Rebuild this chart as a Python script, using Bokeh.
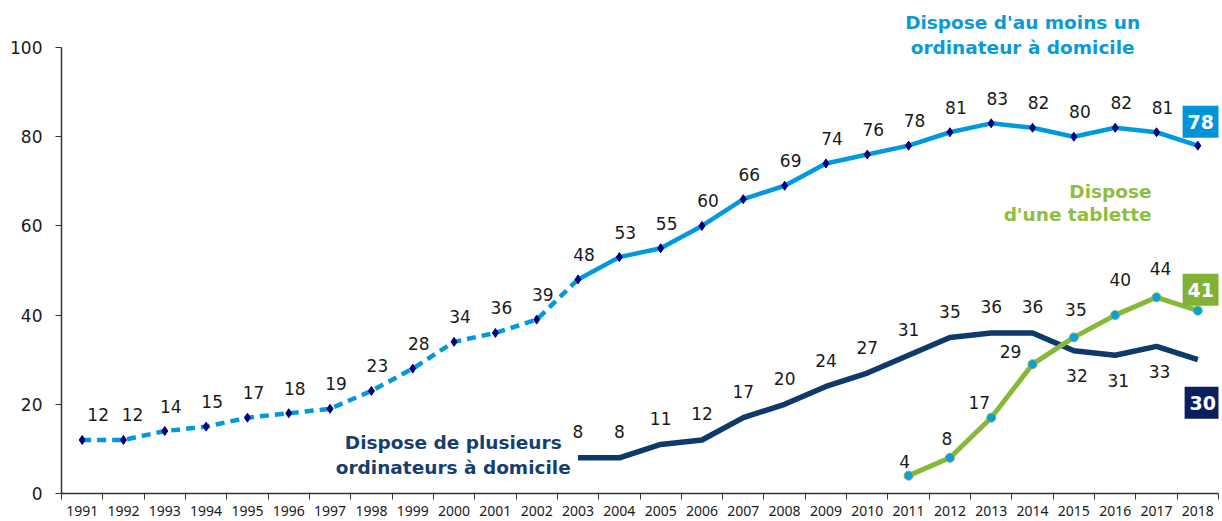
from bokeh.plotting import figure
from bokeh.models import Range1d, FixedTicker, ColumnDataSource
from bokeh.core.properties import value
from bokeh.embed import file_html
from bokeh.resources import INLINE

# ---- data ----
years = list(range(1991, 2019))
computer = [12, 12, 14, 15, 17, 18, 19, 23, 28, 34, 36, 39, 48, 53, 55, 60, 66, 69,
            74, 76, 78, 81, 83, 82, 80, 82, 81, 78]
multi_years = list(range(2003, 2019))
multi = [8, 8, 11, 12, 17, 20, 24, 27, 31, 35, 36, 36, 32, 31, 33, 30]
tablet_years = list(range(2011, 2019))
tablet = [4, 8, 17, 29, 35, 40, 44, 41]

title_computer = ["Dispose d'au moins un", "ordinateur à domicile"]
title_multi = ["Dispose de plusieurs", "ordinateurs à domicile"]
title_tablet = ["Dispose", "d'une tablette"]

# ---- colours ----
C_COMP = "#0099DD"
C_COMP_TITLE = "#0A9AD8"
C_COMP_BOX = "#0095D9"
C_MULTI = "#0D3A6B"
C_MULTI_TITLE = "#163F70"
C_MULTI_BOX = "#0B1F5E"
C_TAB = "#86B83A"
C_TAB_TITLE = "#8CBE3F"
C_TAB_BOX = "#80B236"
C_MARK = "#000080"
C_TABMARK = "#0AA0E0"
C_TXT = "#1A1A1A"

FONT = value("DejaVu Sans")

p = figure(width=1222, height=521, output_backend="svg", toolbar_location=None,
           x_range=Range1d(1990.5, 2018.5), y_range=Range1d(0, 110.54),
           min_border_left=61, min_border_right=4, min_border_top=0, min_border_bottom=28)
p.outline_line_color = None
p.xgrid.visible = False
p.ygrid.visible = False
p.background_fill_color = "white"

# axes
xa = p.xaxis[0]
xa.ticker = FixedTicker(ticks=years, minor_ticks=[y - 0.5 for y in years] + [years[-1] + 0.5])
xa.bounds = (1990.5, 2018.5)
xa.major_tick_out = 0
xa.major_tick_in = 0
xa.minor_tick_out = 6
xa.minor_tick_in = 0
xa.minor_tick_line_color = "#333333"
xa.axis_line_color = "#333333"
xa.axis_line_width = 1.5
xa.major_label_text_font = "Noto Sans"
xa.major_label_text_font_size = "14px"
xa.major_label_text_color = C_TXT
xa.major_label_standoff = 6

ya = p.yaxis[0]
ya.ticker = FixedTicker(ticks=[0, 20, 40, 60, 80, 100])
ya.bounds = (0, 100)
ya.major_tick_out = 6
ya.major_tick_in = 0
ya.minor_tick_out = 0
ya.minor_tick_in = 0
ya.major_tick_line_color = "#333333"
ya.axis_line_color = "#333333"
ya.axis_line_width = 1.5
ya.major_label_text_font = "DejaVu Sans"
ya.major_label_text_font_size = "17px"
ya.major_label_text_color = C_TXT
ya.major_label_standoff = 13

# ---- lines ----
split = years.index(2003)
p.line(years[:split + 1], computer[:split + 1], line_color=C_COMP, line_width=4.5,
       line_dash="9 6")
p.line(years[split:], computer[split:], line_color=C_COMP, line_width=4.5)
p.scatter(years, computer, marker="diamond", size=9, color=C_MARK)

p.line(multi_years, multi, line_color=C_MULTI, line_width=5.5)

p.line(tablet_years, tablet, line_color=C_TAB, line_width=5)
p.scatter(tablet_years, tablet, marker="circle", size=9, fill_color=C_TABMARK,
          line_color=C_TAB, line_width=1)

# ---- value labels ----
comp_dx = [16, 9] + [6] * (len(computer) - 3)
comp_dy = [-25] * (len(computer) - 1)
src_c = ColumnDataSource(dict(x=years[:-1], y=computer[:-1],
                              t=[str(v) for v in computer[:-1]], dx=comp_dx, dy=comp_dy))
p.text(x="x", y="y", text="t", x_offset="dx", y_offset="dy", source=src_c,
       text_font=FONT, text_font_size="17px", text_color=C_TXT,
       text_align="center", text_baseline="middle")

below = {2015, 2016, 2017}
multi_dx = [3 if y in below else 0 for y in multi_years[:-1]]
multi_dy = [25 if y in below else -26 for y in multi_years[:-1]]
src_m = ColumnDataSource(dict(x=multi_years[:-1], y=multi[:-1],
                              t=[str(v) for v in multi[:-1]], dx=multi_dx, dy=multi_dy))
p.text(x="x", y="y", text="t", x_offset="dx", y_offset="dy", source=src_m,
       text_font=FONT, text_font_size="17px", text_color=C_TXT,
       text_align="center", text_baseline="middle")

tab_dx = [-4, -3, -12, -22, 2, 5, 4]
tab_dy = [-14, -19, -15, -13, -28, -36, -29]
src_t = ColumnDataSource(dict(x=tablet_years[:-1], y=tablet[:-1],
                              t=[str(v) for v in tablet[:-1]], dx=tab_dx, dy=tab_dy))
p.text(x="x", y="y", text="t", x_offset="dx", y_offset="dy", source=src_t,
       text_font=FONT, text_font_size="17px", text_color=C_TXT,
       text_align="center", text_baseline="middle")

# ---- end-value boxes ----
def endbox(x, y, dx, dy, fill):
    p.text(x=[x], y=[y], text=[str(y)], x_offset=dx, y_offset=dy,
           text_font=FONT, text_font_size="19px", text_font_style="bold",
           text_color="white", text_align="center", text_baseline="middle",
           background_fill_color=fill,
           padding=dict(left=5, right=5, top=9, bottom=9))

endbox(years[-1], computer[-1], 3, -24, C_COMP_BOX)
endbox(tablet_years[-1], tablet[-1], 3, -21, C_TAB_BOX)
endbox(multi_years[-1], multi[-1], 5, 43, C_MULTI_BOX)

# ---- series titles ----
def title(lines, x, ys, align, color):
    p.text(x=[x] * len(lines), y=ys, text=lines, text_font=FONT,
           text_font_size="18.5px", text_font_style="bold", text_color=color,
           text_align=align, text_baseline="middle")

title(title_computer, 2013.76, [105.6, 100.0], "center", C_COMP_TITLE)
title(title_tablet, 2016.88, [67.7, 62.6], "right", C_TAB_TITLE)
title(title_multi, 1999.98, [11.4, 5.8], "center", C_MULTI_TITLE)

open("out.html", "w").write(file_html(p, INLINE))
